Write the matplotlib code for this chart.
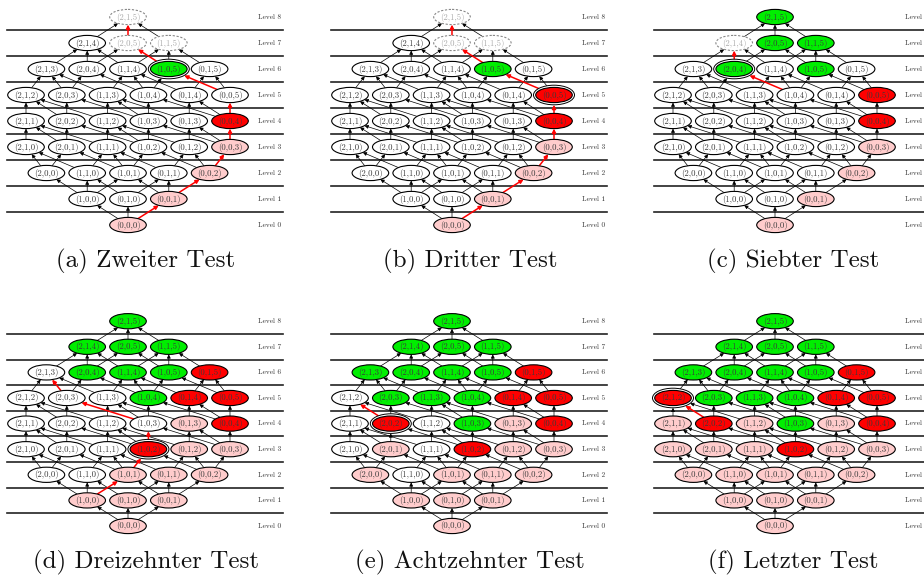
import numpy as np
import matplotlib.pyplot as plt
from matplotlib.patches import Ellipse, FancyArrowPatch

# Zustandsraum (a, b, c): a = 0..2, b = 0..1, c = 0..5
A_MAX, B_MAX, C_MAX = 2, 1, 5

captions = ['(a) Zweiter Test', '(b) Dritter Test', '(c) Siebter Test',
            '(d) Dreizehnter Test', '(e) Achtzehnter Test', '(f) Letzter Test']

# (a) Zweiter Test
a_hell = [(0, 0, 0), (0, 0, 1), (0, 0, 2), (0, 0, 3)]
a_rot = [(0, 0, 4)]
a_gruen = [(1, 0, 5)]
a_offen = [(2, 1, 5), (2, 0, 5), (1, 1, 5)]
a_aktuell = (1, 0, 5)
a_pfad = [(0, 0, 0), (0, 0, 1), (0, 0, 2), (0, 0, 3), (0, 0, 4), (0, 0, 5),
          (1, 0, 5), (2, 0, 5), (2, 1, 5)]

# (b) Dritter Test
b_hell = [(0, 0, 0), (0, 0, 1), (0, 0, 2), (0, 0, 3)]
b_rot = [(0, 0, 4), (0, 0, 5)]
b_gruen = [(1, 0, 5)]
b_offen = [(2, 1, 5), (2, 0, 5), (1, 1, 5)]
b_aktuell = (0, 0, 5)
b_pfad = [(0, 0, 0), (0, 0, 1), (0, 0, 2), (0, 0, 3), (0, 0, 4), (0, 0, 5),
          (1, 0, 5), (2, 0, 5), (2, 1, 5)]

# (c) Siebter Test
c_hell = [(0, 0, 0), (0, 0, 1), (0, 0, 2), (0, 0, 3)]
c_rot = [(0, 0, 4), (0, 0, 5)]
c_gruen = [(2, 1, 5), (2, 0, 5), (1, 1, 5), (1, 0, 5), (2, 0, 4)]
c_offen = [(2, 1, 4)]
c_aktuell = (2, 0, 4)
c_pfad = [(1, 0, 4), (2, 0, 4), (2, 1, 4)]

# (d) Dreizehnter Test
d_hell = [(0, 0, 0), (1, 0, 0), (0, 1, 0), (0, 0, 1), (1, 0, 1), (0, 1, 1),
          (0, 0, 2), (0, 1, 2), (0, 0, 3), (0, 1, 3)]
d_rot = [(1, 0, 2), (0, 0, 4), (0, 1, 4), (0, 0, 5), (0, 1, 5)]
d_gruen = [(2, 1, 5), (2, 1, 4), (2, 0, 5), (1, 1, 5), (2, 0, 4), (1, 1, 4),
           (1, 0, 5), (1, 0, 4)]
d_offen = []
d_aktuell = (1, 0, 2)
d_pfad = [(1, 0, 0), (1, 0, 1), (1, 0, 2), (1, 0, 3), (2, 0, 3), (2, 1, 3)]

# (e) Achtzehnter Test
e_hell = [(0, 0, 0), (1, 0, 0), (0, 1, 0), (0, 0, 1), (2, 0, 0), (1, 0, 1),
          (0, 1, 1), (0, 0, 2), (2, 0, 1), (0, 1, 2), (0, 0, 3), (0, 1, 3)]
e_rot = [(1, 0, 2), (2, 0, 2), (0, 0, 4), (0, 1, 4), (0, 0, 5), (0, 1, 5)]
e_gruen = [(1, 0, 3), (2, 0, 3), (1, 1, 3), (1, 0, 4), (2, 1, 3), (2, 0, 4),
           (1, 1, 4), (1, 0, 5), (2, 1, 4), (2, 0, 5), (1, 1, 5), (2, 1, 5)]
e_offen = []
e_aktuell = (2, 0, 2)
e_pfad = [(2, 0, 2), (2, 1, 2)]

# (f) Letzter Test
f_hell = [(0, 0, 0), (1, 0, 0), (0, 1, 0), (0, 0, 1), (2, 0, 0), (1, 1, 0),
          (1, 0, 1), (0, 1, 1), (0, 0, 2), (2, 1, 0), (2, 0, 1), (1, 1, 1),
          (0, 1, 2), (0, 0, 3), (2, 1, 1), (1, 1, 2), (0, 1, 3)]
f_rot = [(1, 0, 2), (2, 0, 2), (0, 0, 4), (2, 1, 2), (0, 1, 4), (0, 0, 5), (0, 1, 5)]
f_gruen = [(1, 0, 3), (2, 0, 3), (1, 1, 3), (1, 0, 4), (2, 1, 3), (2, 0, 4),
           (1, 1, 4), (1, 0, 5), (2, 1, 4), (2, 0, 5), (1, 1, 5), (2, 1, 5)]
f_offen = []
f_aktuell = (2, 1, 2)
f_pfad = [(2, 0, 2), (2, 1, 2)]

tests = [(a_hell, a_rot, a_gruen, a_offen, a_aktuell, a_pfad),
         (b_hell, b_rot, b_gruen, b_offen, b_aktuell, b_pfad),
         (c_hell, c_rot, c_gruen, c_offen, c_aktuell, c_pfad),
         (d_hell, d_rot, d_gruen, d_offen, d_aktuell, d_pfad),
         (e_hell, e_rot, e_gruen, e_offen, e_aktuell, e_pfad),
         (f_hell, f_rot, f_gruen, f_offen, f_aktuell, f_pfad)]

HELL = '#ffcccc'
ROT = '#ff0000'
GRUEN = '#00ee00'
FONT = 'cmr10'

# Pixelmaße eines Teilbildes
DX = 40.8          # Abstand der Knoten in einer Ebene
RX, RY = 18.3, 7.6  # Halbachsen der Ellipsen
origins = [(128, 225, 26.0), (452, 225, 26.0), (775, 225, 26.0),
           (128, 526, 25.6), (452, 526, 25.6), (775, 526, 25.6)]


def level_nodes(L):
    """Knoten einer Ebene, absteigend sortiert"""
    return [(a, b, L - a - b) for a in range(A_MAX, -1, -1)
            for b in range(B_MAX, -1, -1) if 0 <= L - a - b <= C_MAX]


def successors(n):
    a, b, c = n
    out = []
    if a < A_MAX:
        out.append((a + 1, b, c))
    if b < B_MAX:
        out.append((a, b + 1, c))
    if c < C_MAX:
        out.append((a, b, c + 1))
    return out


def border(p, q, rx, ry):
    """Punkt auf dem Ellipsenrand um p in Richtung q"""
    dx, dy = q[0] - p[0], q[1] - p[1]
    t = 1 / np.sqrt((dx / rx) ** 2 + (dy / ry) ** 2)
    return p[0] + t * dx, p[1] + t * dy


def arrow(ax, p, q, rp, rq, color, lw, z):
    s = border(p, q, *rp)
    e = border(q, p, *rq)
    ax.add_patch(FancyArrowPatch(s, e, arrowstyle='-|>', mutation_scale=5.5,
                                 color=color, lw=lw, shrinkA=0, shrinkB=0, zorder=z))


fig = plt.figure(figsize=(9.24, 5.78), dpi=100)
ax = fig.add_axes([0, 0, 1, 1])
ax.set_xlim(0, 924)
ax.set_ylim(578, 0)
ax.axis('off')

n_levels = A_MAX + B_MAX + C_MAX + 1

for k, (hell, rot, gruen, offen, aktuell, pfad) in enumerate(tests):
    cx, y0, dy = origins[k]

    # Positionen aller Knoten
    pos = {}
    for L in range(n_levels):
        nodes = level_nodes(L)
        for i, n in enumerate(nodes):
            pos[n] = (cx + (i - (len(nodes) - 1) / 2) * DX, y0 - L * dy)

    # Ebenen-Trennlinien und Beschriftung
    for L in range(n_levels):
        if L < n_levels - 1:
            yl = y0 - (L + 0.5) * dy
            ax.plot([cx - 121, cx + 155], [yl, yl], color='#222222', lw=1.2, zorder=1)
        ax.text(cx + 130, y0 - L * dy, 'Level %d' % L, fontsize=5.3, family=FONT,
                color='#333333', ha='left', va='center', zorder=1)

    def radius(n):
        if n == aktuell:
            return (RX + 2.2, RY + 2.2)
        return (RX, RY)

    # Kanten
    pfad_kanten = set(zip(pfad[:-1], pfad[1:]))
    for n in pos:
        for m in successors(n):
            if (n, m) in pfad_kanten:
                arrow(ax, pos[n], pos[m], radius(n), radius(m), 'red', 1.1, 3)
            else:
                arrow(ax, pos[n], pos[m], radius(n), radius(m), 'black', 0.5, 2)

    # Knoten
    for n, (x, y) in pos.items():
        fill, edge, txt, ls = 'white', 'black', '#3a3a3a', '-'
        if n in hell:
            fill = HELL
        elif n in rot:
            fill = ROT
        elif n in gruen:
            fill = GRUEN
        elif n in offen:
            edge, txt, ls = '#888888', '#aaaaaa', (0, (2, 1.5))
        if n == aktuell:
            ax.add_patch(Ellipse((x, y), 2 * RX + 4.4, 2 * RY + 4.4, facecolor='white',
                                 edgecolor='black', lw=0.7, zorder=4))
        ax.add_patch(Ellipse((x, y), 2 * RX, 2 * RY, facecolor=fill, edgecolor=edge,
                             lw=0.8, linestyle=ls, zorder=5))
        ax.text(x, y, '(%d,%d,%d)' % n, fontsize=6.3, family=FONT, color=txt,
                ha='center', va='center', zorder=6)

    # Unterschrift
    ax.text(cx + 18, y0 + (36 if k < 3 else 36), captions[k], fontsize=18, family=FONT,
            ha='center', va='center', color='#111111')

plt.savefig('out.png', dpi=100)
